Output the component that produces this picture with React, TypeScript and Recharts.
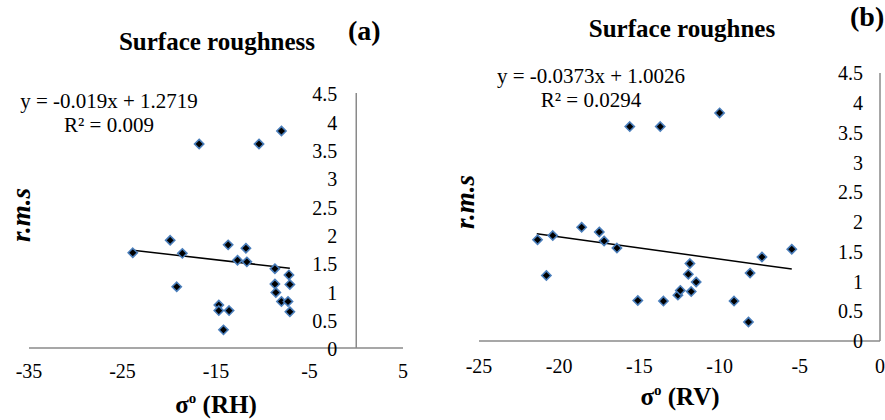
import React from "react";
import {
  ScatterChart,
  Scatter,
  XAxis,
  YAxis,
  ReferenceLine,
  ReferenceDot,
} from "recharts";

// panel (a): sigma0 RH vs r.m.s
const pointsA = [
  { x: -16.8, y: 3.6 },
  { x: -10.4, y: 3.6 },
  { x: -8.0, y: 3.83 },
  { x: -23.9, y: 1.68 },
  { x: -19.9, y: 1.9 },
  { x: -18.6, y: 1.67 },
  { x: -19.2, y: 1.08 },
  { x: -13.7, y: 1.82 },
  { x: -11.8, y: 1.76 },
  { x: -12.7, y: 1.55 },
  { x: -11.7, y: 1.52 },
  { x: -14.7, y: 0.76 },
  { x: -14.7, y: 0.66 },
  { x: -13.6, y: 0.66 },
  { x: -14.2, y: 0.32 },
  { x: -8.7, y: 1.4 },
  { x: -7.2, y: 1.29 },
  { x: -7.1, y: 1.12 },
  { x: -8.7, y: 1.13 },
  { x: -8.6, y: 0.98 },
  { x: -8.0, y: 0.82 },
  { x: -7.3, y: 0.82 },
  { x: -7.1, y: 0.64 },
];
const trendA = [
  { x: -23.9, y: 1.726 },
  { x: -7.1, y: 1.407 },
];

// panel (b): sigma0 RV vs r.m.s
const pointsB = [
  { x: -15.6, y: 3.6 },
  { x: -13.7, y: 3.6 },
  { x: -10.0, y: 3.83 },
  { x: -21.35, y: 1.7 },
  { x: -20.4, y: 1.77 },
  { x: -20.8, y: 1.1 },
  { x: -18.6, y: 1.91 },
  { x: -17.5, y: 1.83 },
  { x: -17.2, y: 1.68 },
  { x: -16.4, y: 1.56 },
  { x: -15.1, y: 0.68 },
  { x: -13.5, y: 0.67 },
  { x: -12.6, y: 0.77 },
  { x: -12.45, y: 0.85 },
  { x: -11.85, y: 1.3 },
  { x: -11.95, y: 1.12 },
  { x: -11.46, y: 0.99 },
  { x: -11.77, y: 0.83 },
  { x: -9.1, y: 0.67 },
  { x: -8.2, y: 0.32 },
  { x: -8.1, y: 1.14 },
  { x: -7.36, y: 1.41 },
  { x: -5.5, y: 1.54 },
];
const trendB = [
  { x: -21.4, y: 1.801 },
  { x: -5.5, y: 1.208 },
];

const ticksXA = [-35, -25, -15, -5, 5];
const ticksXB = [-25, -20, -15, -10, -5, 0];
const ticksY = [0, 0.5, 1, 1.5, 2, 2.5, 3, 3.5, 4, 4.5];

const FONT = "Liberation Serif, Times New Roman, serif";
const AXIS = "#8a8a8a";

const Diamond = (props: any) => {
  const { cx, cy } = props;
  const r = 4.6;
  return (
    <path
      d={`M${cx},${cy - r}L${cx + r},${cy}L${cx},${cy + r}L${cx - r},${cy}Z`}
      fill="#000"
      stroke="#4a7ebb"
      strokeWidth={1.6}
    />
  );
};

const NoDot = () => <g />;

const XTick = (props: any) => (
  <text
    x={props.x}
    y={props.y}
    dy="0.71em"
    textAnchor="middle"
    fill="#000"
    fontSize={20}
    style={{ fontFamily: FONT }}
  >
    {props.payload.value}
  </text>
);

const YTick = (props: any) => (
  <text
    x={props.x}
    y={props.y}
    dy="0.36em"
    textAnchor="end"
    fill="#000"
    fontSize={20}
    style={{ fontFamily: FONT }}
  >
    {props.payload.value}
  </text>
);

const yLabel = (t: number) => (p: any) => {
  const vb = p.viewBox || {};
  return (
    <text
      x={vb.x - 19}
      y={vb.y + (vb.height || 0) / 2}
      dy="0.42em"
      textAnchor="end"
      fill="#000"
      fontSize={20}
      style={{ fontFamily: FONT }}
    >
      {t}
    </text>
  );
};

export default function App() {
  return (
    <div
      style={{
        position: "absolute",
        left: 0,
        top: 0,
        width: 885,
        height: 420,
        background: "#fff",
        overflow: "hidden",
        fontFamily: FONT,
      }}
    >
      <div style={{ position: "absolute", left: 0, top: 0 }}>
        <ScatterChart
          width={440}
          height={420}
          margin={{ top: 93, right: 37, left: 29, bottom: 32 }}
        >
          <XAxis
            type="number"
            dataKey="x"
            domain={[-35, 5]}
            ticks={ticksXA}
            interval={0}
            allowDataOverflow
            height={40}
            tickLine={false}
            tickSize={0}
            tickMargin={16}
            axisLine={{ stroke: AXIS, strokeWidth: 1.5 }}
            tick={<XTick />}
          />
          <YAxis
            type="number"
            dataKey="y"
            domain={[0, 4.5]}
            allowDataOverflow
            hide
          />
          <ReferenceLine x={0} stroke={AXIS} strokeWidth={1.5} />
          {ticksY.map((t) => (
            <ReferenceDot
              key={t}
              x={0}
              y={t}
              r={0}
              fill="none"
              stroke="none"
              label={yLabel(t)}
            />
          ))}
          <Scatter
            data={trendA}
            line={{ stroke: "#000", strokeWidth: 1.5 }}
            shape={NoDot}
            isAnimationActive={false}
          />
          <Scatter data={pointsA} shape={Diamond} isAnimationActive={false} />
        </ScatterChart>
      </div>

      <div style={{ position: "absolute", left: 440, top: 0 }}>
        <ScatterChart
          width={445}
          height={420}
          margin={{ top: 73, right: 5, left: 39, bottom: 39 }}
        >
          <XAxis
            type="number"
            dataKey="x"
            domain={[-25, 0]}
            ticks={ticksXB}
            interval={0}
            allowDataOverflow
            height={40}
            tickLine={false}
            tickSize={0}
            tickMargin={18}
            axisLine={{ stroke: AXIS, strokeWidth: 1.5 }}
            tick={<XTick />}
          />
          <YAxis
            type="number"
            dataKey="y"
            orientation="right"
            mirror
            domain={[0, 4.5]}
            ticks={ticksY}
            interval={0}
            allowDataOverflow
            tickLine={false}
            tickSize={0}
            tickMargin={17}
            axisLine={{ stroke: AXIS, strokeWidth: 1.5 }}
            tick={<YTick />}
          />
          <Scatter
            data={trendB}
            line={{ stroke: "#000", strokeWidth: 1.5 }}
            shape={NoDot}
            isAnimationActive={false}
          />
          <Scatter data={pointsB} shape={Diamond} isAnimationActive={false} />
        </ScatterChart>
      </div>

      <svg
        width={885}
        height={420}
        style={{ position: "absolute", left: 0, top: 0, pointerEvents: "none", fontFamily: FONT }}
      >
        <text x={217} y={50} textAnchor="middle" fontSize={25} fontWeight="bold">
          Surface roughness
        </text>
        <text x={348} y={40} fontSize={28} fontWeight="bold">
          (a)
        </text>
        <text x={682} y={37} textAnchor="middle" fontSize={25} fontWeight="bold">
          Surface roughnes
        </text>
        <text x={850} y={26} fontSize={28} fontWeight="bold">
          (b)
        </text>

        <text x={109} y={108} textAnchor="middle" fontSize={21}>
          y = -0.019x + 1.2719
        </text>
        <text x={109} y={132} textAnchor="middle" fontSize={21}>
          R² = 0.009
        </text>
        <text x={591} y={83} textAnchor="middle" fontSize={21}>
          y = -0.0373x + 1.0026
        </text>
        <text x={591} y={107} textAnchor="middle" fontSize={21}>
          R² = 0.0294
        </text>

        <text x={216} y={413} textAnchor="middle" fontSize={25} fontWeight="bold">
          σ<tspan fontSize={15} dy={-10}>o</tspan>
          <tspan dy={10}> (RH)</tspan>
        </text>
        <text x={680} y={405} textAnchor="middle" fontSize={25} fontWeight="bold">
          σ<tspan fontSize={15} dy={-10}>o</tspan>
          <tspan dy={10}> (RV)</tspan>
        </text>

        <text
          x={0}
          y={0}
          transform="translate(21,215) rotate(-90)"
          textAnchor="middle"
          dominantBaseline="central"
          fontSize={27}
          fontWeight="bold"
          fontStyle="italic"
        >
          r.m.s
        </text>
        <text
          x={0}
          y={0}
          transform="translate(465,202) rotate(-90)"
          textAnchor="middle"
          dominantBaseline="central"
          fontSize={27}
          fontWeight="bold"
          fontStyle="italic"
        >
          r.m.s
        </text>
      </svg>
    </div>
  );
}
